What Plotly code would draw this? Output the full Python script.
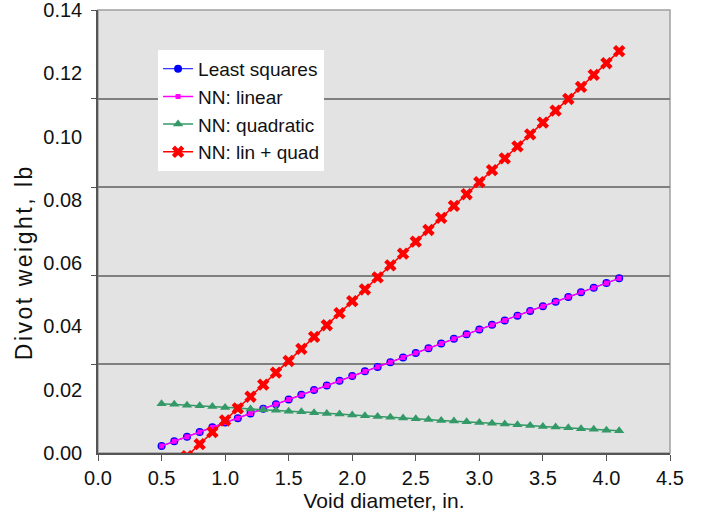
import plotly.graph_objects as go

diameter = [0.5, 0.6, 0.7, 0.8, 0.9, 1.0, 1.1, 1.2, 1.3, 1.4, 1.5, 1.6, 1.7, 1.8, 1.9,
            2.0, 2.1, 2.2, 2.3, 2.4, 2.5, 2.6, 2.7, 2.8, 2.9, 3.0, 3.1, 3.2, 3.3, 3.4,
            3.5, 3.6, 3.7, 3.8, 3.9, 4.0, 4.1]

least_squares = [0.0022, 0.0037, 0.0051, 0.0066, 0.0081, 0.0096, 0.0110, 0.0125, 0.0140,
                 0.0154, 0.0169, 0.0184, 0.0199, 0.0213, 0.0228, 0.0243, 0.0258, 0.0272,
                 0.0287, 0.0302, 0.0316, 0.0331, 0.0346, 0.0361, 0.0375, 0.0390, 0.0405,
                 0.0419, 0.0434, 0.0449, 0.0464, 0.0478, 0.0493, 0.0508, 0.0522, 0.0537,
                 0.0552]

nn_linear = [0.0022, 0.0037, 0.0051, 0.0066, 0.0081, 0.0096, 0.0110, 0.0125, 0.0140,
             0.0154, 0.0169, 0.0184, 0.0199, 0.0213, 0.0228, 0.0243, 0.0258, 0.0272,
             0.0287, 0.0302, 0.0316, 0.0331, 0.0346, 0.0361, 0.0375, 0.0390, 0.0405,
             0.0419, 0.0434, 0.0449, 0.0464, 0.0478, 0.0493, 0.0508, 0.0522, 0.0537,
             0.0552]

nn_quadratic = [0.0156, 0.0154, 0.0151, 0.0149, 0.0147, 0.0144, 0.0142, 0.0139, 0.0137,
                0.0135, 0.0132, 0.0130, 0.0127, 0.0125, 0.0123, 0.0120, 0.0118, 0.0115,
                0.0113, 0.0111, 0.0108, 0.0106, 0.0103, 0.0101, 0.0099, 0.0096, 0.0094,
                0.0092, 0.0089, 0.0087, 0.0084, 0.0082, 0.0080, 0.0077, 0.0075, 0.0072,
                0.0070]

nn_lin_quad = [-0.0085, -0.0047, -0.0010, 0.0028, 0.0066, 0.0103, 0.0141, 0.0178, 0.0216,
               0.0254, 0.0291, 0.0329, 0.0367, 0.0404, 0.0442, 0.0480, 0.0517, 0.0555,
               0.0593, 0.0630, 0.0668, 0.0705, 0.0743, 0.0781, 0.0818, 0.0856, 0.0894,
               0.0931, 0.0969, 0.1007, 0.1044, 0.1082, 0.1119, 0.1157, 0.1195, 0.1232,
               0.1270]

y_tick_vals = [0.00, 0.02, 0.04, 0.06, 0.08, 0.10, 0.12, 0.14]
y_tick_text = ["0.00", "0.02", "0.04", "0.06", "0.08", "0.10", "0.12", "0.14"]
grid_vals = [0.028, 0.056, 0.084, 0.112, 0.14]
x_tick_vals = [0.0, 0.5, 1.0, 1.5, 2.0, 2.5, 3.0, 3.5, 4.0, 4.5]
x_tick_text = ["0.0", "0.5", "1.0", "1.5", "2.0", "2.5", "3.0", "3.5", "4.0", "4.5"]

FONT = "Liberation Sans, Arial, sans-serif"

fig = go.Figure()
fig.add_trace(go.Scatter(x=diameter, y=least_squares, name="Least squares", mode="lines+markers",
                         line=dict(color="#0000ff", width=1),
                         marker=dict(symbol="circle", size=8, color="#0000ff")))
fig.add_trace(go.Scatter(x=diameter, y=nn_linear, name="NN: linear", mode="lines+markers",
                         line=dict(color="#ff00ff", width=1.5),
                         marker=dict(symbol="square", size=5, color="#ff00ff")))
fig.add_trace(go.Scatter(x=diameter, y=nn_quadratic, name="NN: quadratic", mode="lines+markers",
                         line=dict(color="#339966", width=1.5),
                         marker=dict(symbol="triangle-up", size=9, color="#339966")))
fig.add_trace(go.Scatter(x=diameter, y=nn_lin_quad, name="NN: lin + quad", mode="lines+markers",
                         line=dict(color="#ff0000", width=1.5),
                         marker=dict(symbol="x", size=11, color="#ff0000")))
# empty helper trace so the gridline axis is drawn
fig.add_trace(go.Scatter(x=[None], y=[None], yaxis="y2", showlegend=False, hoverinfo="skip"))

fig.update_layout(
    width=711, height=517,
    margin=dict(l=98, r=41, t=10, b=64, autoexpand=False),
    paper_bgcolor="white",
    plot_bgcolor="#e3e3e3",
    font=dict(family=FONT, size=20, color="#111111"),
    showlegend=True,
    legend=dict(x=0.105, y=0.91, xanchor="left", yanchor="top",
                bgcolor="white", borderwidth=0, font=dict(size=19),
                tracegroupgap=0),
    xaxis=dict(range=[0, 4.5], tickvals=x_tick_vals, ticktext=x_tick_text,
               showgrid=False, zeroline=False, showline=True, linecolor="#555555", linewidth=1.5,
               ticks="outside", ticklen=6, tickcolor="#555555", automargin=False,
               title=dict(text="Void diameter, in.", font=dict(size=21), standoff=6)),
    yaxis=dict(range=[0, 0.14], tickvals=y_tick_vals, ticktext=y_tick_text,
               showgrid=False, zeroline=False, showline=True, linecolor="#555555", linewidth=1.5,
               ticks="", ticklabelstandoff=10, automargin=False, ticklabeloverflow="allow"),
    yaxis2=dict(range=[0, 0.14], overlaying="y", side="left", tickvals=grid_vals,
                showticklabels=False, showgrid=True, gridcolor="#808080", gridwidth=1.5,
                zeroline=False, showline=False, ticks="outside", ticklen=6, tickcolor="#555555",
                automargin=False),
    shapes=[dict(type="rect", xref="paper", yref="paper", x0=0, y0=0, x1=1, y1=1,
                 line=dict(color="#a0a0a0", width=1.5), layer="below")],
    annotations=[dict(text='<span style="letter-spacing:2.5px">Divot weight, lb</span>',
                      xref="paper", yref="paper", x=-0.13, y=0.43,
                      xanchor="center", yanchor="middle", textangle=-90,
                      showarrow=False, font=dict(size=23))],
)

fig.write_html("out.html", config={"displayModeBar": False},
               post_script="document.body.style.margin='0';")
